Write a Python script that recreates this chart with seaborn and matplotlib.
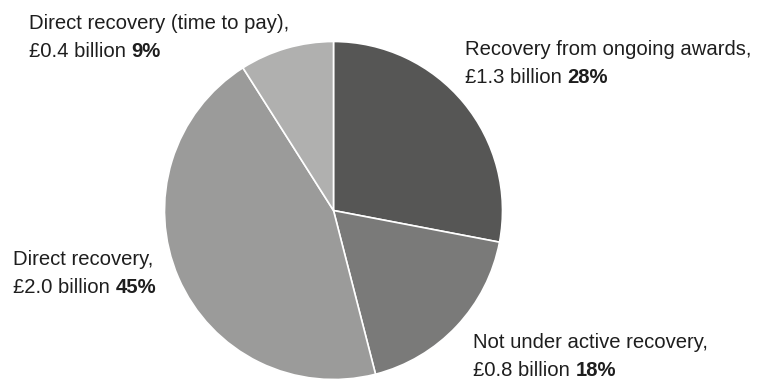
import matplotlib
matplotlib.use("Agg")
import matplotlib.pyplot as plt
import seaborn as sns

sns.set_theme(style="white")
plt.rcParams["font.family"] = ["Liberation Sans", "DejaVu Sans"]

# Overpayment debt by recovery status (clockwise from 12 o'clock)
categories = ["Recovery from ongoing awards", "Not under active recovery",
              "Direct recovery", "Direct recovery (time to pay)"]
amounts_bn = [1.3, 0.8, 2.0, 0.4]
shares_pct = [28, 18, 45, 9]
colors = ["#565655", "#7a7a79", "#9b9b9a", "#b0b0af"]

W, H = 764, 381
fig = plt.figure(figsize=(W / 100, H / 100), dpi=100)

cx, cy, r = 333.5, 210.5, 169
ax = fig.add_axes([(cx - r) / W, (H - cy - r) / H, 2 * r / W, 2 * r / H])
ax.pie(shares_pct, colors=colors, startangle=90, counterclock=False,
       radius=1, wedgeprops=dict(edgecolor="white", linewidth=1.2))
ax.set_xlim(-1, 1)
ax.set_ylim(-1, 1)
ax.set_aspect("equal")
ax.axis("off")

# label anchor: left x and first-line baseline, in pixels from top-left
label_pos = [(465, 55), (473, 348), (13, 265), (29, 29)]
line_gap = 28
fs = 14.6
txt_color = "#1e1e1e"

for name, amt, pct, (lx, ly) in zip(categories, amounts_bn, shares_pct, label_pos):
    fig.text(lx / W, 1 - ly / H, name + ",", fontsize=fs, color=txt_color,
             ha="left", va="baseline")
    t = fig.text(lx / W, 1 - (ly + line_gap) / H, f"£{amt:.1f} billion ",
                 fontsize=fs, color=txt_color, ha="left", va="baseline")
    ax.annotate(f"{pct}%", xy=(1, 0), xycoords=t, fontsize=fs,
                fontweight="bold", color=txt_color, ha="left", va="bottom")

fig.savefig("out.png", dpi=100)
